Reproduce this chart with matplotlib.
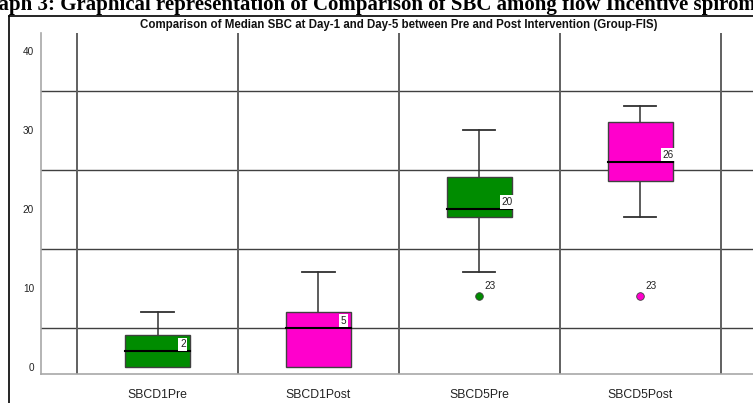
import matplotlib
matplotlib.use("Agg")
import matplotlib.pyplot as plt
from matplotlib.patches import Rectangle
from matplotlib.lines import Line2D

categories = ["SBCD1Pre", "SBCD1Post", "SBCD5Pre", "SBCD5Post"]
q1 = [0, 0, 19, 23.5]
q3 = [4, 7, 24, 31]
medians = [2, 5, 20, 26]
whisk_lo = [0, 0, 12, 19]
whisk_hi = [7, 12, 30, 33]
outliers = [[], [], [9], [9]]
outlier_ids = [[], [], ["23"], ["23"]]
colors = ["#008C00", "#FF00CC", "#008C00", "#FF00CC"]
yticks = [0, 10, 20, 30, 40]

W, H = 753, 403
fig = plt.figure(figsize=(W / 100, H / 100), dpi=100)

ax = fig.add_axes([41 / W, 1 - 374 / H, 1 - 41 / W, (374 - 33) / H])
ax.set_xlim(0.276, 4.70)
ax.set_ylim(-0.886, 42.28)

# grid
for yv in [5, 15, 25, 35]:
    ax.axhline(yv, color="#404040", lw=1.0, zorder=1)
for xv in [0.5, 1.5, 2.5, 3.5, 4.5]:
    ax.axvline(xv, color="#606060", lw=1.4, zorder=1)

bw = 0.4
for i, cat in enumerate(categories):
    x = i + 1
    c = colors[i]
    ax.plot([x, x], [q3[i], whisk_hi[i]], color="#303030", lw=1.1, zorder=2)
    ax.plot([x, x], [whisk_lo[i], q1[i]], color="#303030", lw=1.1, zorder=2)
    ax.plot([x - bw / 4, x + bw / 4], [whisk_hi[i]] * 2, color="#303030", lw=1.3, zorder=2)
    ax.plot([x - bw / 4, x + bw / 4], [whisk_lo[i]] * 2, color="#303030", lw=1.3, zorder=2)
    ax.add_patch(Rectangle((x - bw / 2, q1[i]), bw, q3[i] - q1[i], facecolor=c,
                           edgecolor="#404040", lw=1.0, zorder=3))
    ax.plot([x - bw / 2, x + bw / 2], [medians[i]] * 2, color="black", lw=1.5, zorder=4)
    ax.text(x + bw / 2 - 0.06, medians[i] + 0.25, str(medians[i]), fontsize=7.2,
            family="Liberation Sans", ha="left", va="bottom", color="#222222", zorder=5,
            bbox=dict(facecolor="white", edgecolor="none", pad=1.2))
    for ov, oid in zip(outliers[i], outlier_ids[i]):
        ax.plot([x], [ov], marker="o", ms=5.5, color=c, mec="#404040", mew=0.6, zorder=5,
                linestyle="none")
        ax.text(x + 0.03, ov + 0.6, oid, fontsize=7.2, family="Liberation Sans",
                ha="left", va="bottom", color="#222222", zorder=5)

ax.set_xticks(range(1, len(categories) + 1))
ax.set_xticklabels(categories, fontsize=8.8, family="Liberation Sans", color="#222222")
ax.set_yticks(yticks)
ax.set_yticklabels([str(v) for v in yticks], fontsize=7.2, family="Liberation Sans",
                   color="#222222")
ax.tick_params(axis="both", length=0)
ax.tick_params(axis="x", pad=11)
ax.tick_params(axis="y", pad=5)
for s in ["top", "right"]:
    ax.spines[s].set_visible(False)
for s in ["left", "bottom"]:
    ax.spines[s].set_color("#a8a8a8")
    ax.spines[s].set_linewidth(1.2)

# chart title
fig.text(399 / W, 1 - 25 / H, "Comparison of Median SBC at Day-1 and Day-5 between Pre and Post Intervention (Group-FIS)",
         fontsize=8.3, fontweight="bold", family="Liberation Sans", ha="center", va="center",
         color="#111111")

# document heading, cropped at top
fig.text(-27 / W, 1 - 10 / H,
         "Graph 3: Graphical representation of Comparison of SBC among flow Incentive spirometer",
         fontsize=15, fontweight="bold", family="Liberation Serif", ha="left", va="baseline",
         color="black")

# frame lines
fig.add_artist(Line2D([9 / W, 1], [1 - 16 / H, 1 - 16 / H], color="black", lw=1.2))
fig.add_artist(Line2D([9 / W, 9 / W], [0, 1 - 16 / H], color="black", lw=1.2))

fig.savefig("out.png", dpi=100)
